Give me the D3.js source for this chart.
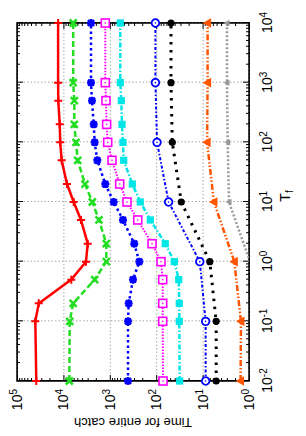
<!DOCTYPE html>
<html>
<head>
<meta charset="utf-8">
<script src="https://cdn.jsdelivr.net/npm/d3@7"></script>
<style>
  body { margin: 0; background: #fff; }
  svg { display: block; font-family: "Liberation Sans", Arial, sans-serif; }
  .grid line { stroke: #a8a8a8; stroke-width: 1; stroke-dasharray: 1.5, 2; }
  .tk line { stroke: #000; stroke-width: 1; }
</style>
</head>
<body>
<div class="chart"></div>
<script>
// T_f sample points
var tfFull = [0.01, 0.1, 0.2, 0.5, 1, 2, 5, 10, 20, 50, 100, 200, 500, 1000, 10000];
var tfDecade = [0.01, 0.1, 1, 10, 100, 1000, 10000];
var tfGray = [1, 10, 100, 1000, 10000];

// time for entire catch, one array per curve
var redVals = [38400, 40300, 34000, 6760, 3260, 2990, 4180, 6000, 8360, 10900, 11700, 12000, 12900, 13000, 13000];
var greenVals = [7460, 7310, 6150, 2120, 1190, 1190, 1710, 2380, 3420, 4920, 5350, 5820, 5820, 6150, 6150];
var starVals = [405, 405, 392, 316, 231, 297, 520, 824, 1250, 1860, 2120, 2220, 2420, 2540, 2540];
var openSqVals = [71.3, 72.4, 72.4, 72.4, 78.8, 123, 250, 426, 612, 897, 1110, 1170, 1210, 1250, 1250];
var fillSqVals = [31.2, 31.8, 31.8, 32.7, 40.7, 63.7, 134, 220, 327, 502, 520, 546, 565, 594, 594];
var circleVals = [8.6, 8.6, 11.5, 54, 96, 104, 104];
var dotVals = [5.1, 5.1, 7.0, 28.8, 45, 48, 48];
var triVals = [1.52, 1.49, 2.07, 5.7, 8.0, 7.8, 7.8];
var grayVals = [0.95, 2.7, 2.88, 2.98, 2.98];

// ticks
var xMajor = [0.01, 0.1, 1, 10, 100, 1000, 10000];
var yMajor = [1, 10, 100, 1000, 10000, 100000];

function minors(lo, hi) {
  var out = [];
  for (var e = lo; e < hi; e++) {
    for (var k = 2; k <= 9; k++) out.push(k * Math.pow(10, e));
  }
  return out;
}
var xMinor = minors(-2, 4),
  yMinor = minors(0, 5);

var series = [
  { tf: tfFull, v: redVals, color: '#ff0000', dash: null, w: 2.5, mk: 'plus' },
  { tf: tfFull, v: greenVals, color: '#22dd22', dash: '6,3', w: 2.5, mk: 'cross' },
  { tf: tfFull, v: starVals, color: '#0000ff', dash: '2.5,3', w: 2.5, mk: 'star' },
  { tf: tfFull, v: openSqVals, color: '#ff00ff', dash: '1.5,1.5', w: 2, mk: 'osquare' },
  { tf: tfFull, v: fillSqVals, color: '#00e5e5', dash: '5,2,1.5,2', w: 2.5, mk: 'fsquare' },
  { tf: tfDecade, v: circleVals, color: '#0000ff', dash: '3,2,1.5,2', w: 2, mk: 'ocircle' },
  { tf: tfDecade, v: dotVals, color: '#000000', dash: '2.5,5.5', w: 3, mk: 'fcircle' },
  { tf: tfDecade, v: triVals, color: '#ff5500', dash: '6,2,1.5,2,1.5,2', w: 2.5, mk: 'ftri' },
  { tf: tfGray, v: grayVals, color: '#999999', dash: '2,2', w: 2.5, mk: 'stri' }
];

var W = 306, H = 436;
var x = d3.scaleLog().domain([0.01, 1e4]).range([55, 413]);
var y = d3.scaleLog().domain([1, 1e5]).range([249, 17]);

var svg = d3.select('.chart')
  .append('svg')
  .attr('width', W)
  .attr('height', H);

svg.append('rect').attr('width', W).attr('height', H).attr('fill', '#fff');

// the plot is drawn landscape and then turned a quarter turn
var g = svg.append('g')
  .attr('transform', 'translate(0,' + H + ') rotate(-90)');

g.append('clipPath').attr('id', 'clip')
  .append('rect')
  .attr('x', 55).attr('y', 17)
  .attr('width', 358).attr('height', 232);

// grid
g.append('g').attr('class', 'grid')
  .attr('transform', 'translate(0,249)')
  .call(d3.axisBottom(x).tickValues(xMajor).tickSize(-232).tickFormat(''));
g.append('g').attr('class', 'grid')
  .attr('transform', 'translate(55,0)')
  .call(d3.axisLeft(y).tickValues(yMajor).tickSize(-358).tickFormat(''));

function power(sel) {
  sel.selectAll('text').each(function (d) {
    var t = d3.select(this);
    t.text(null);
    t.append('tspan').text('10');
    t.append('tspan')
      .attr('dy', '-0.5em')
      .attr('font-size', '10px')
      .text(Math.round(Math.log10(d)));
  });
}

// major + minor ticks, mirrored on every side
var axes = [
  { a: d3.axisBottom(x).tickValues(xMajor).tickSizeInner(-6).tickPadding(13), t: 'translate(0,249)', lab: true },
  { a: d3.axisTop(x).tickValues(xMajor).tickSizeInner(-6).tickFormat(''), t: 'translate(0,17)' },
  { a: d3.axisBottom(x).tickValues(xMinor).tickSizeInner(-3).tickFormat(''), t: 'translate(0,249)' },
  { a: d3.axisTop(x).tickValues(xMinor).tickSizeInner(-3).tickFormat(''), t: 'translate(0,17)' },
  { a: d3.axisLeft(y).tickValues(yMajor).tickSizeInner(-6).tickPadding(8), t: 'translate(55,0)', lab: true },
  { a: d3.axisRight(y).tickValues(yMajor).tickSizeInner(-6).tickFormat(''), t: 'translate(413,0)' },
  { a: d3.axisLeft(y).tickValues(yMinor).tickSizeInner(-3).tickFormat(''), t: 'translate(55,0)' },
  { a: d3.axisRight(y).tickValues(yMinor).tickSizeInner(-3).tickFormat(''), t: 'translate(413,0)' }
];
axes.forEach(function (ax) {
  var s = g.append('g').attr('class', 'tk')
    .attr('transform', ax.t)
    .call(ax.a.tickSizeOuter(0));
  s.select('.domain').remove();
  s.attr('font-size', 14).attr('font-family', null);
  if (ax.lab) s.call(power);
});

// frame
g.append('rect')
  .attr('x', 55).attr('y', 17)
  .attr('width', 358).attr('height', 232)
  .attr('fill', 'none')
  .attr('stroke', '#000')
  .attr('stroke-width', 1.5);

// axis titles
var tl = g.append('text')
  .attr('x', 240).attr('y', 290)
  .attr('text-anchor', 'middle')
  .attr('font-size', 14);
tl.append('tspan').text('T');
tl.append('tspan').attr('dy', '0.3em').attr('font-size', '10px').text('f');

g.append('text')
  .attr('transform', 'translate(18,133) rotate(-90)')
  .attr('text-anchor', 'middle')
  .attr('font-size', 13)
  .text('Time for entire catch');

// curves
var line = d3.line()
  .x(function (d) { return x(d[0]); })
  .y(function (d) { return y(d[1]); });

var lines = g.append('g').attr('clip-path', 'url(#clip)');
var marks = g.append('g');

function marker(sel, type, c) {
  switch (type) {
    case 'plus':
      sel.append('path').attr('d', 'M-4,0H4M0,-4V4').attr('stroke', c).attr('stroke-width', 2);
      break;
    case 'cross':
      sel.append('path').attr('d', 'M-3.5,-3.5L3.5,3.5M-3.5,3.5L3.5,-3.5').attr('stroke', c).attr('stroke-width', 2.5);
      break;
    case 'star':
      sel.append('path').attr('d', 'M-4,0H4M0,-4V4M-3,-3L3,3M-3,3L3,-3').attr('stroke', c).attr('stroke-width', 2.4);
      break;
    case 'osquare':
      sel.append('rect').attr('x', -4).attr('y', -4).attr('width', 8).attr('height', 8)
        .attr('fill', '#fff').attr('stroke', c).attr('stroke-width', 1.6);
      sel.append('rect').attr('x', -0.7).attr('y', -0.7).attr('width', 1.4).attr('height', 1.4).attr('fill', c);
      break;
    case 'fsquare':
      sel.append('rect').attr('x', -3.6).attr('y', -3.6).attr('width', 7.2).attr('height', 7.2).attr('fill', c);
      break;
    case 'ocircle':
      sel.append('circle').attr('r', 3.8).attr('fill', '#fff').attr('stroke', c).attr('stroke-width', 1.8);
      sel.append('circle').attr('r', 0.8).attr('fill', c);
      break;
    case 'fcircle':
      sel.append('circle').attr('r', 3.6).attr('fill', c);
      break;
    case 'ftri':
      sel.append('path').attr('d', 'M0,-5L4.8,3.5L-4.8,3.5Z').attr('fill', c);
      break;
    case 'stri':
      sel.append('path').attr('d', 'M0,-3.5L3.2,2.5L-3.2,2.5Z').attr('fill', c);
      break;
  }
}

series.forEach(function (s) {
  var pts = s.tf.map(function (t, i) { return [t, s.v[i]]; });
  lines.append('path')
    .datum(pts)
    .attr('d', line)
    .attr('fill', 'none')
    .attr('stroke', s.color)
    .attr('stroke-width', s.w)
    .attr('stroke-dasharray', s.dash);
  marks.selectAll(null)
    .data(pts.filter(function (d) { return d[1] >= 1; }))
    .enter()
    .append('g')
    .attr('transform', function (d) { return 'translate(' + x(d[0]) + ',' + y(d[1]) + ')'; })
    .each(function () { marker(d3.select(this), s.mk, s.color); });
});
</script>
</body>
</html>
